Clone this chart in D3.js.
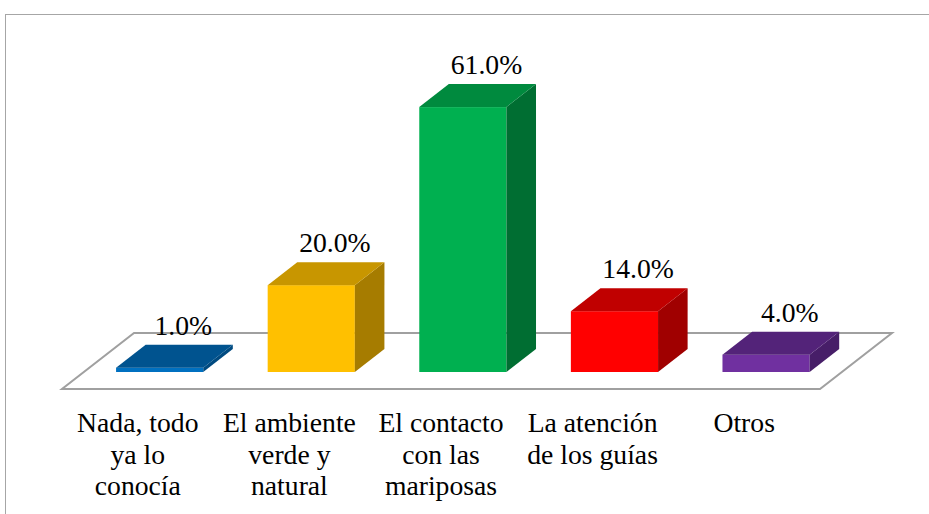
<!DOCTYPE html>
<html>
<head>
<meta charset="utf-8">
<script src="https://cdn.jsdelivr.net/npm/d3@7/dist/d3.min.js"></script>
<style>
html,body{margin:0;padding:0;background:#fff;}
svg{display:block;}
svg text{font-family:"Liberation Serif","Tinos","Times New Roman","Nimbus Roman","DejaVu Serif","Noto Serif",serif;}
</style>
</head>
<body>
<svg id="chart" width="929" height="514"></svg>
<script>
const categories = ["Nada, todo ya lo conocía", "El ambiente verde y natural", "El contacto con las mariposas", "La atención de los guías", "Otros"];
const tickLines = [["Nada, todo", "ya lo", "conocía"], ["El ambiente", "verde y", "natural"], ["El contacto", "con las", "mariposas"], ["La atención", "de los guías"], ["Otros"]];
const values = [0.01, 0.20, 0.61, 0.14, 0.04];
const valueLabels = ["1.0%", "20.0%", "61.0%", "14.0%", "4.0%"];
const frontColors = ["#0070c0", "#ffc000", "#00b050", "#ff0000", "#7030a0"];
const topColors = ["#00538f", "#c89600", "#008a3e", "#c00000", "#532379"];
const sideColors = ["#004a80", "#a67c00", "#006e32", "#a00000", "#471e68"];

const svg = d3.select("#chart");

// pick font size so that "El ambiente" is ~133px wide (Times-like metrics at 27px)
const probe = svg.append("text").attr("font-size", 27).text("El ambiente");
let fs = 27;
try {
  const w = probe.node().getComputedTextLength();
  if (w > 0) fs = Math.max(20, Math.min(30, 27 * 133 / w));
} catch (e) {}
probe.remove();

// outer frame
svg.append("rect").attr("x", 5.5).attr("y", 14.5).attr("width", 1000).attr("height", 1000)
  .attr("fill", "none").attr("stroke", "#a6a6a6").attr("stroke-width", 1);

// geometry
const floorFrontY = 389, floorDepthY = 56;
const kx = 72 / 56; // oblique projection ratio
const barFrontOff = 17, barDepth = 23;

const x = d3.scaleBand().domain(categories).range([62, 820]).paddingInner(0.425).paddingOuter(0.2125);
const baseY = floorFrontY - barFrontOff;
const y = d3.scaleLinear().domain([0, 0.7]).range([baseY, 68]);

// floor
const fx0 = x.range()[0], fx1 = x.range()[1];
const floorPts = [[fx0, floorFrontY], [fx1, floorFrontY], [fx1 + floorDepthY * kx, floorFrontY - floorDepthY], [fx0 + floorDepthY * kx, floorFrontY - floorDepthY]];
svg.append("polygon").attr("points", floorPts.map(p => p.join(",")).join(" "))
  .attr("fill", "#fff").attr("stroke", "#a0a0a0").attr("stroke-width", 2);

const data = categories.map((c, i) => ({c, v: values[i], i}));
const bdx = barDepth * kx, bdy = barDepth;
const off = barFrontOff * kx;

const g = svg.append("g");
const bars = g.selectAll("g.bar").data(data).join("g").attr("class", "bar");

bars.each(function(d) {
  const sel = d3.select(this);
  const x0 = x(d.c) + off, w = x.bandwidth();
  const yt = y(d.v), yb = y(0);
  // front
  sel.append("rect").attr("x", x0).attr("y", yt).attr("width", w).attr("height", yb - yt).attr("fill", frontColors[d.i]);
  // side
  sel.append("polygon").attr("points", [[x0 + w, yt], [x0 + w + bdx, yt - bdy], [x0 + w + bdx, yb - bdy], [x0 + w, yb]].map(p => p.join(",")).join(" "))
    .attr("fill", sideColors[d.i]);
  // top
  sel.append("polygon").attr("points", [[x0, yt], [x0 + w, yt], [x0 + w + bdx, yt - bdy], [x0 + bdx, yt - bdy]].map(p => p.join(",")).join(" "))
    .attr("fill", topColors[d.i]);
  // label
  sel.append("text").attr("x", x0 + w / 2 + bdx * 0.8).attr("y", yt - bdy - 10)
    .attr("text-anchor", "middle").attr("font-size", fs).attr("fill", "#000")
    .text(valueLabels[d.i]);
});

// category labels
const tl = svg.selectAll("text.cat").data(data).join("text").attr("class", "cat")
  .attr("font-size", fs).attr("fill", "#000").attr("text-anchor", "middle");
tl.each(function(d) {
  const t = d3.select(this);
  tickLines[d.i].forEach((line, j) => {
    t.append("tspan").attr("x", x(d.c) + x.bandwidth() / 2).attr("y", 432 + j * 31.5).text(line);
  });
});
</script>
</body>
</html>
